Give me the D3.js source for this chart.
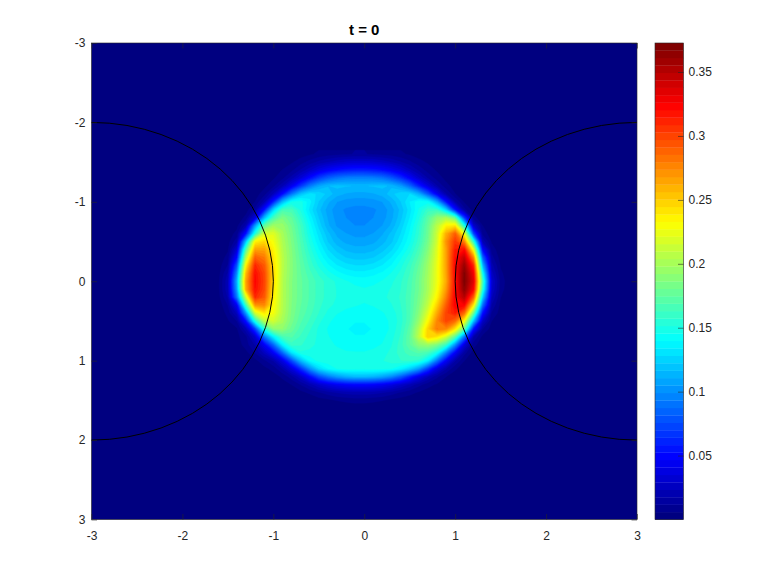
<!DOCTYPE html>
<html><head><meta charset="utf-8">
<script src="https://cdn.jsdelivr.net/npm/d3@7"></script>
<style>html,body{margin:0;background:#fff}svg{display:block}text{font-family:"Liberation Sans",Arial,sans-serif;fill:#262626}</style>
</head><body><svg id="c" width="778" height="584"></svg>
<script>
const titleText = "t = 0";
const axisTicks = [-3,-2,-1,0,1,2,3];
const axisTickLabels = ["-3","-2","-1","0","1","2","3"];
const colorTicks = [0.05,0.1,0.15,0.2,0.25,0.3,0.35];
const colorTickLabels = ["0.05","0.1","0.15","0.2","0.25","0.3","0.35"];
const valueRange = [0, 0.3727];
const circleCentersX = [-3, 3];
const circleRadius = 2;
const gridX = [-1.7,-1.6,-1.5,-1.4,-1.3,-1.2,-1.1,-1,-0.9,-0.8,-0.7,-0.6,-0.5,-0.4,-0.3,-0.2,-0.1,0,0.1,0.2,0.3,0.4,0.5,0.6,0.7,0.8,0.9,1,1.1,1.2,1.3,1.4,1.5,1.6,1.7];
const gridY = [-1.6,-1.5,-1.4,-1.3,-1.2,-1.1,-1,-0.9,-0.8,-0.7,-0.6,-0.5,-0.4,-0.3,-0.2,-0.1,0,0.1,0.2,0.3,0.4,0.5,0.6,0.7,0.8,0.9,1,1.1,1.2,1.3,1.4,1.5,1.6];
// density in thousandths (rows = gridY, columns = gridX)
const density = [
[0,0,0,0,0,0,0,0,1,2,3,5,7,9,10,11,12,12,11,10,9,7,5,3,2,1,0,0,0,0,0,0,0,0,0],
[0,0,0,0,0,0,0,1,3,5,9,14,19,23,27,30,31,31,30,27,23,18,13,8,5,3,1,0,0,0,0,0,0,0,0],
[0,0,0,0,0,0,1,3,6,10,18,27,38,46,52,56,58,58,56,52,45,36,25,16,9,5,3,1,0,0,0,0,0,0,0],
[0,0,0,0,0,0,2,5,10,20,34,52,70,82,90,94,95,95,94,90,80,66,48,30,17,9,4,2,0,0,0,0,0,0,0],
[0,0,0,0,0,1,4,10,22,42,68,92,108,116,118,117,116,116,117,118,115,105,86,60,36,18,8,3,1,0,0,0,0,0,0],
[0,0,0,0,0,3,9,24,52,90,118,130,127,120,113,110,109,109,110,113,120,127,128,112,80,44,18,6,2,0,0,0,0,0,0],
[0,0,0,0,1,6,20,60,115,145,148,136,122,112,105,102,101,101,102,105,112,122,134,144,142,110,55,18,5,1,0,0,0,0,0],
[0,0,0,0,3,14,55,125,165,165,150,132,118,108,101,98,97,97,98,101,108,118,131,146,160,160,125,55,14,3,0,0,0,0,0],
[0,0,0,1,8,35,115,165,185,175,157,138,122,110,102,99,98,98,99,102,109,120,134,150,172,192,200,175,70,8,2,0,0,0,0],
[0,0,1,4,20,105,175,198,195,180,163,143,126,112,104,100,99,99,101,105,112,124,138,155,177,207,235,240,150,30,6,2,0,0,0],
[0,0,2,8,55,150,215,220,200,183,165,146,131,118,109,105,103,103,105,110,118,128,141,157,179,213,260,290,225,75,10,2,0,0,0],
[0,1,3,16,120,235,245,228,203,185,168,150,135,122,113,109,107,107,109,114,121,132,144,160,182,215,270,305,275,155,22,5,1,0,0],
[0,1,5,32,170,265,265,235,205,187,170,154,140,128,120,115,113,113,115,120,127,137,149,165,187,220,265,315,320,225,50,9,2,0,0],
[0,2,8,52,205,290,280,240,207,188,172,158,145,134,127,122,120,120,122,127,134,144,155,170,192,222,265,320,345,275,85,14,3,1,0],
[0,3,12,78,235,310,292,243,207,188,174,161,150,141,134,130,128,128,130,134,140,149,160,175,196,224,265,322,360,310,115,20,5,1,0],
[0,4,18,98,255,320,298,245,206,188,175,165,156,148,142,138,136,136,138,141,146,153,163,178,198,225,264,322,368,328,145,26,7,2,0],
[0,5,22,112,265,322,300,243,205,187,176,168,160,155,150,146,144,143,144,146,150,156,165,180,200,225,262,320,370,335,165,32,9,2,0],
[0,5,22,107,262,320,298,240,205,187,176,168,160,155,151,148,147,146,147,149,152,157,166,180,200,228,268,322,365,325,155,30,8,2,0],
[0,4,18,92,215,310,292,236,205,187,176,168,160,155,151,149,148,147,148,150,153,158,167,182,204,235,278,325,350,290,125,24,6,1,0],
[0,2,12,45,165,270,275,232,205,186,175,167,159,153,150,147,146,145,146,148,151,157,167,184,210,248,290,325,325,240,90,17,4,1,0],
[0,1,8,25,105,215,240,228,204,185,173,165,157,150,146,144,143,142,143,145,148,155,167,188,220,262,300,315,285,180,55,11,3,0,0],
[0,1,5,12,55,150,205,215,200,183,170,162,153,147,143,141,140,140,141,143,147,154,168,194,232,275,300,285,230,120,28,6,1,0,0],
[0,0,2,5,22,70,150,190,192,178,166,158,150,145,142,140,139,139,140,142,147,156,172,204,248,280,275,240,175,55,12,3,0,0,0],
[0,0,1,4,10,30,90,135,165,170,162,155,150,146,143,141,140,140,141,144,149,158,175,208,250,240,215,170,90,18,4,1,0,0,0],
[0,0,0,2,9,18,45,85,135,160,158,153,150,147,145,144,143,143,144,146,151,160,174,190,195,185,160,100,35,8,2,0,0,0,0],
[0,0,0,1,4,12,25,45,85,130,150,150,148,147,147,146,146,146,147,149,153,160,166,170,165,145,95,45,14,3,1,0,0,0,0],
[0,0,0,0,1,4,10,18,38,75,115,140,148,149,149,149,149,149,150,151,154,157,158,155,135,90,45,18,6,1,0,0,0,0,0],
[0,0,0,0,0,1,4,8,18,36,65,100,127,140,146,148,148,148,148,148,146,138,125,105,70,36,18,7,2,0,0,0,0,0,0],
[0,0,0,0,0,0,1,3,7,15,28,50,75,92,104,112,116,116,114,108,98,82,60,40,24,13,6,2,0,0,0,0,0,0,0],
[0,0,0,0,0,0,0,1,3,6,12,20,30,38,44,48,50,50,48,44,38,30,22,14,8,5,2,1,0,0,0,0,0,0,0],
[0,0,0,0,0,0,0,0,0,2,4,7,11,15,18,20,21,21,20,18,15,11,8,5,3,1,0,0,0,0,0,0,0,0,0],
[0,0,0,0,0,0,0,0,0,0,0,1,3,4,6,7,8,8,7,6,4,3,2,1,0,0,0,0,0,0,0,0,0,0,0],
[0,0,0,0,0,0,0,0,0,0,0,0,0,0,1,2,2,2,2,1,0,0,0,0,0,0,0,0,0,0,0,0,0,0,0]
];
const jetStops = [[0,0,0.5],[0,0,1],[0,1,1],[1,1,0],[1,0,0],[0.5,0,0]];
const jetPos = [0,0.125,0.375,0.625,0.875,1];

const svg = d3.select("#c");
const M = {l:91.5,r:637,t:43,b:519.5};
const x = d3.scaleLinear().domain([-3,3]).range([M.l,M.r]);
const y = d3.scaleLinear().domain([-3,3]).range([M.t,M.b]);
const jet = d3.scaleLinear().domain(jetPos).range(jetStops.map(c=>`rgb(${c.map(v=>Math.round(v*255)).join(",")})`));
const nLevels = 64;
const levelColors = d3.range(nLevels).map(i=>jet(i/(nLevels-1)));
const levelStep = (valueRange[1]-valueRange[0])/nLevels;
const thresholds = d3.range(nLevels).map(i=>valueRange[0]+i*levelStep);

const defs = svg.append("defs");
defs.append("clipPath").attr("id","plot").append("rect").attr("x",M.l).attr("y",M.t).attr("width",M.r-M.l).attr("height",M.b-M.t);

// background = lowest colour level
svg.append("rect").attr("x",M.l).attr("y",M.t).attr("width",M.r-M.l).attr("height",M.b-M.t).attr("fill",levelColors[0]);

// filled contours through the data grid
const nx = gridX.length, ny = gridY.length;
const flat = density.flat().map(v=>v/1000);
const cgen = d3.contours().size([nx,ny]).thresholds(thresholds.slice(1));
const dx = gridX[1]-gridX[0], dy = gridY[1]-gridY[0];
const proj = d3.geoTransform({point(a,b){this.stream.point(x(gridX[0]+(a-0.5)*dx), y(gridY[0]+(b-0.5)*dy));}});
const path = d3.geoPath(proj);
svg.append("g").attr("clip-path","url(#plot)").selectAll("path").data(cgen(flat)).join("path")
  .attr("d",path).attr("fill",(d,i)=>levelColors[i+1]).attr("stroke",(d,i)=>levelColors[i+1]).attr("stroke-width",0.4);

// circles
svg.append("g").attr("clip-path","url(#plot)").selectAll("ellipse").data(circleCentersX).join("ellipse")
  .attr("cx",d=>x(d)).attr("cy",y(0)).attr("rx",x(circleRadius)-x(0)).attr("ry",y(circleRadius)-y(0))
  .attr("fill","none").attr("stroke","#000").attr("stroke-width",1);

// axes
const axisColor = "#262626";
function style(g,fs){g.select(".domain").remove();g.selectAll("line").attr("stroke",axisColor).attr("stroke-width",0.6);g.selectAll("text").attr("font-size",fs).attr("fill",axisColor);}
const axisFmt = (d,i)=>axisTickLabels[i];
svg.append("g").attr("transform",`translate(0,${M.b})`).call(d3.axisBottom(x).tickValues(axisTicks).tickFormat(axisFmt).tickSizeInner(-5.5).tickPadding(12)).call(g=>style(g,12));
svg.append("g").attr("transform",`translate(${M.l},0)`).call(d3.axisLeft(y).tickValues(axisTicks).tickFormat(axisFmt).tickSizeInner(-5.5).tickPadding(6)).call(g=>style(g,12));
svg.append("g").attr("transform",`translate(0,${M.t})`).call(d3.axisTop(x).tickValues(axisTicks).tickFormat("").tickSizeInner(-5.5)).call(g=>style(g,12));
svg.append("g").attr("transform",`translate(${M.r},0)`).call(d3.axisRight(y).tickValues(axisTicks).tickFormat("").tickSizeInner(-5.5)).call(g=>style(g,12));
svg.append("rect").attr("x",M.l).attr("y",M.t).attr("width",M.r-M.l).attr("height",M.b-M.t).attr("fill","none").attr("stroke",axisColor).attr("stroke-width",0.6);

svg.append("text").attr("x",(M.l+M.r)/2).attr("y",35).attr("text-anchor","middle").attr("font-size",15).attr("font-weight","bold").style("fill","#000").text(titleText);

// colorbar
const C = {l:655,r:683.5};
const cy = d3.scaleLinear().domain(valueRange).range([M.b,M.t]);
svg.append("g").selectAll("rect").data(levelColors).join("rect")
  .attr("x",C.l).attr("width",C.r-C.l)
  .attr("y",(d,i)=>cy(thresholds[i]+levelStep)).attr("height",cy(0)-cy(levelStep)+0.3).attr("fill",d=>d);
svg.append("g").attr("transform",`translate(${C.r},0)`).call(d3.axisRight(cy).tickValues(colorTicks).tickFormat((d,i)=>colorTickLabels[i]).tickSizeInner(-5.5).tickPadding(5)).call(g=>style(g,12));
svg.append("rect").attr("x",C.l).attr("y",M.t).attr("width",C.r-C.l).attr("height",M.b-M.t).attr("fill","none").attr("stroke",axisColor).attr("stroke-width",0.6);
</script></body></html>
